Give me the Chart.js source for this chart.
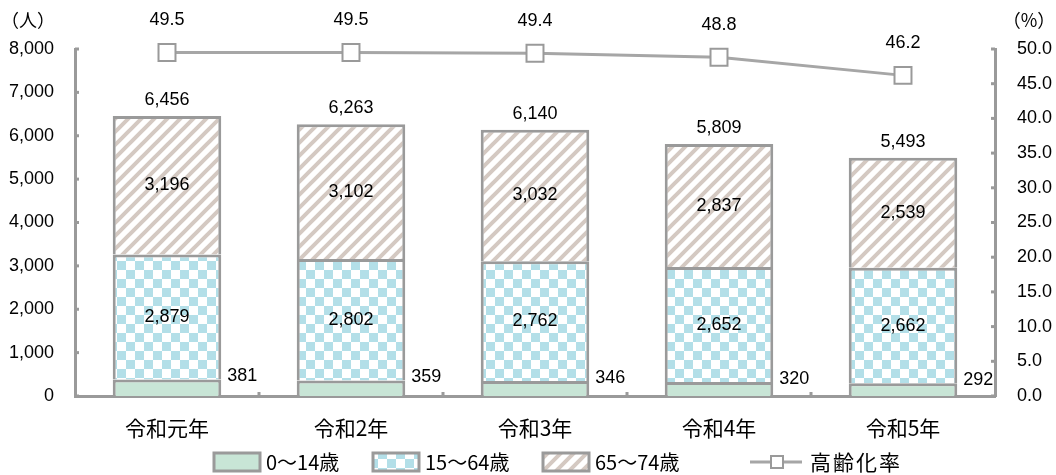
<!DOCTYPE html>
<html>
<head>
<meta charset="utf-8">
<script src="https://cdn.jsdelivr.net/npm/chart.js@4/dist/chart.umd.min.js"></script>
<style>
  html, body { margin: 0; padding: 0; background: #fff; }
  #wrap { width: 1056px; height: 475px; }
</style>
</head>
<body>
<div id="wrap"><canvas id="chart" width="1056" height="475"></canvas></div>
<script>
const years = ['令和元年', '令和2年', '令和3年', '令和4年', '令和5年'];
const age0to14 = [381, 359, 346, 320, 292];
const age15to64 = [2879, 2802, 2762, 2652, 2662];
const age65to74 = [3196, 3102, 3032, 2837, 2539];
const totals = [6456, 6263, 6140, 5809, 5493];
const agingRate = [49.5, 49.5, 49.4, 48.8, 46.2];

const FONT = '"Liberation Sans", Arial, "Noto Sans CJK JP", sans-serif';
const JFONT = '"Noto Sans CJK JP", "Liberation Sans", sans-serif';
const GRAY = '#9a9a9a';

// fill patterns for the bars
function checker() {
  const c = document.createElement('canvas');
  c.width = c.height = 18;
  const g = c.getContext('2d');
  g.fillStyle = '#fff';
  g.fillRect(0, 0, 18, 18);
  g.fillStyle = '#b3dfe8';
  g.fillRect(0, 0, 9, 9);
  g.fillRect(9, 9, 9, 9);
  return g.createPattern(c, 'repeat');
}
function hatch() {
  const c = document.createElement('canvas');
  c.width = c.height = 13;
  const g = c.getContext('2d');
  g.fillStyle = '#fff';
  g.fillRect(0, 0, 13, 13);
  g.strokeStyle = '#d4c9c2';
  g.lineWidth = 4;
  g.beginPath();
  g.moveTo(-4, 17); g.lineTo(17, -4);
  g.moveTo(-4, 4); g.lineTo(4, -4);
  g.moveTo(9, 17); g.lineTo(17, 9);
  g.stroke();
  return g.createPattern(c, 'repeat');
}
const GREEN = '#c8e5d6';
const CHECK = checker();
const HATCH = hatch();

const fmt = v => v.toLocaleString('en-US');

const labelPlugin = {
  id: 'labels',
  afterDatasetsDraw(chart) {
    const ctx = chart.ctx;
    ctx.save();
    ctx.font = '18px ' + FONT;
    ctx.fillStyle = '#000';
    ctx.textBaseline = 'middle';

    // 0-14 labels to the right of each bar
    chart.getDatasetMeta(0).data.forEach((bar, i) => {
      ctx.textAlign = 'left';
      ctx.fillText(fmt(age0to14[i]), bar.x + bar.width / 2 + 6, bar.y - 3);
    });
    // inner labels
    [1, 2].forEach(d => {
      const vals = d === 1 ? age15to64 : age65to74;
      chart.getDatasetMeta(d).data.forEach((bar, i) => {
        ctx.textAlign = 'center';
        ctx.fillText(fmt(vals[i]), bar.x, (bar.y + bar.base) / 2);
      });
    });
    // totals above the bars
    chart.getDatasetMeta(2).data.forEach((bar, i) => {
      ctx.textAlign = 'center';
      ctx.fillText(fmt(totals[i]), bar.x, bar.y - 16);
    });
    // aging rate labels
    chart.getDatasetMeta(3).data.forEach((pt, i) => {
      ctx.textAlign = 'center';
      ctx.fillText(agingRate[i].toFixed(1), pt.x, pt.y - 32);
    });
    ctx.restore();
  }
};

const decorPlugin = {
  id: 'decor',
  afterDraw(chart) {
    const ctx = chart.ctx;
    const a = chart.chartArea;
    const y = chart.scales.y, y2 = chart.scales.y2;
    ctx.save();
    ctx.fillStyle = GRAY;
    // small inward tick marks
    for (let v = 0; v <= 8000; v += 1000) {
      const py = y.getPixelForValue(v);
      ctx.fillRect(a.left, py - 1.5, 4, 3);
    }
    for (let v = 0; v <= 50; v += 5) {
      const py = y2.getPixelForValue(v);
      ctx.fillRect(a.right - 4, py - 1.5, 4, 3);
    }
    const cw = (a.right - a.left) / years.length;
    for (let k = 1; k < years.length; k++) {
      ctx.fillRect(a.left + cw * k - 1.5, a.bottom - 4, 3, 4);
    }

    // unit labels
    ctx.fillStyle = '#000';
    ctx.font = '18px ' + JFONT;
    ctx.textBaseline = 'middle';
    ctx.textAlign = 'center';
    ctx.fillText('（人）', 28, 20);
    ctx.fillText('（%）', 1029, 20);

    // legend
    const ly = 462;
    const boxes = [
      { x: 214, fill: GREEN, text: '0〜14歳' },
      { x: 373, fill: CHECK, text: '15〜64歳' },
      { x: 543, fill: HATCH, text: '65〜74歳' }
    ];
    ctx.textAlign = 'left';
    ctx.font = '20px ' + JFONT;
    boxes.forEach(b => {
      ctx.fillStyle = b.fill;
      ctx.fillRect(b.x, ly - 9, 46, 18);
      ctx.strokeStyle = GRAY;
      ctx.lineWidth = 3;
      ctx.strokeRect(b.x, ly - 9, 46, 18);
      ctx.fillStyle = '#000';
      ctx.fillText(b.text, b.x + 52, ly);
    });
    ctx.strokeStyle = '#a6a6a6';
    ctx.lineWidth = 3;
    ctx.beginPath();
    ctx.moveTo(750, ly); ctx.lineTo(802, ly);
    ctx.stroke();
    ctx.fillStyle = '#fff';
    ctx.fillRect(771, ly - 6, 12, 12);
    ctx.strokeStyle = GRAY;
    ctx.lineWidth = 2;
    ctx.strokeRect(771, ly - 6, 12, 12);
    ctx.fillStyle = '#000';
    ctx.font = '21px ' + JFONT;
    ctx.letterSpacing = '2px';
    ctx.fillText('高齢化率', 810, ly);
    ctx.restore();
  }
};

const barCommon = {
  borderColor: GRAY,
  borderWidth: 3,
  categoryPercentage: 1,
  barPercentage: 0.59,
  yAxisID: 'y',
  order: 2
};

new Chart(document.getElementById('chart'), {
  type: 'bar',
  data: {
    labels: years,
    datasets: [
      { ...barCommon, label: '0〜14歳', data: age0to14, backgroundColor: GREEN },
      { ...barCommon, label: '15〜64歳', data: age15to64, backgroundColor: CHECK },
      { ...barCommon, label: '65〜74歳', data: age65to74, backgroundColor: HATCH },
      {
        type: 'line',
        label: '高齢化率',
        data: agingRate,
        yAxisID: 'y2',
        borderColor: '#a6a6a6',
        borderWidth: 3,
        pointStyle: 'rect',
        pointRadius: 12,
        pointBackgroundColor: '#fff',
        pointBorderColor: GRAY,
        pointBorderWidth: 2,
        clip: false,
        order: 1
      }
    ]
  },
  options: {
    responsive: false,
    animation: false,
    layout: { padding: { top: 49, left: 0, right: 0, bottom: 0 } },
    plugins: { legend: { display: false }, tooltip: { enabled: false } },
    scales: {
      x: {
        stacked: true,
        grid: { display: false },
        border: { color: GRAY, width: 3 },
        ticks: { color: '#000', font: { size: 21, family: JFONT }, padding: 11 },
        afterFit(s) { s.height = 79; }
      },
      y: {
        stacked: true,
        position: 'left',
        min: 0, max: 8000,
        grid: { display: false },
        border: { color: GRAY, width: 3 },
        ticks: {
          stepSize: 1000,
          color: '#000',
          font: { size: 18, family: FONT },
          padding: 13,
          callback: v => fmt(v)
        },
        afterFit(s) { s.width = 75; }
      },
      y2: {
        position: 'right',
        min: 0, max: 50,
        grid: { display: false },
        border: { color: GRAY, width: 3 },
        ticks: {
          stepSize: 5,
          color: '#000',
          font: { size: 18, family: FONT },
          padding: 14,
          callback: v => v.toFixed(1)
        },
        afterFit(s) { s.width = 61; }
      }
    }
  },
  plugins: [labelPlugin, decorPlugin]
});
</script>
</body>
</html>
